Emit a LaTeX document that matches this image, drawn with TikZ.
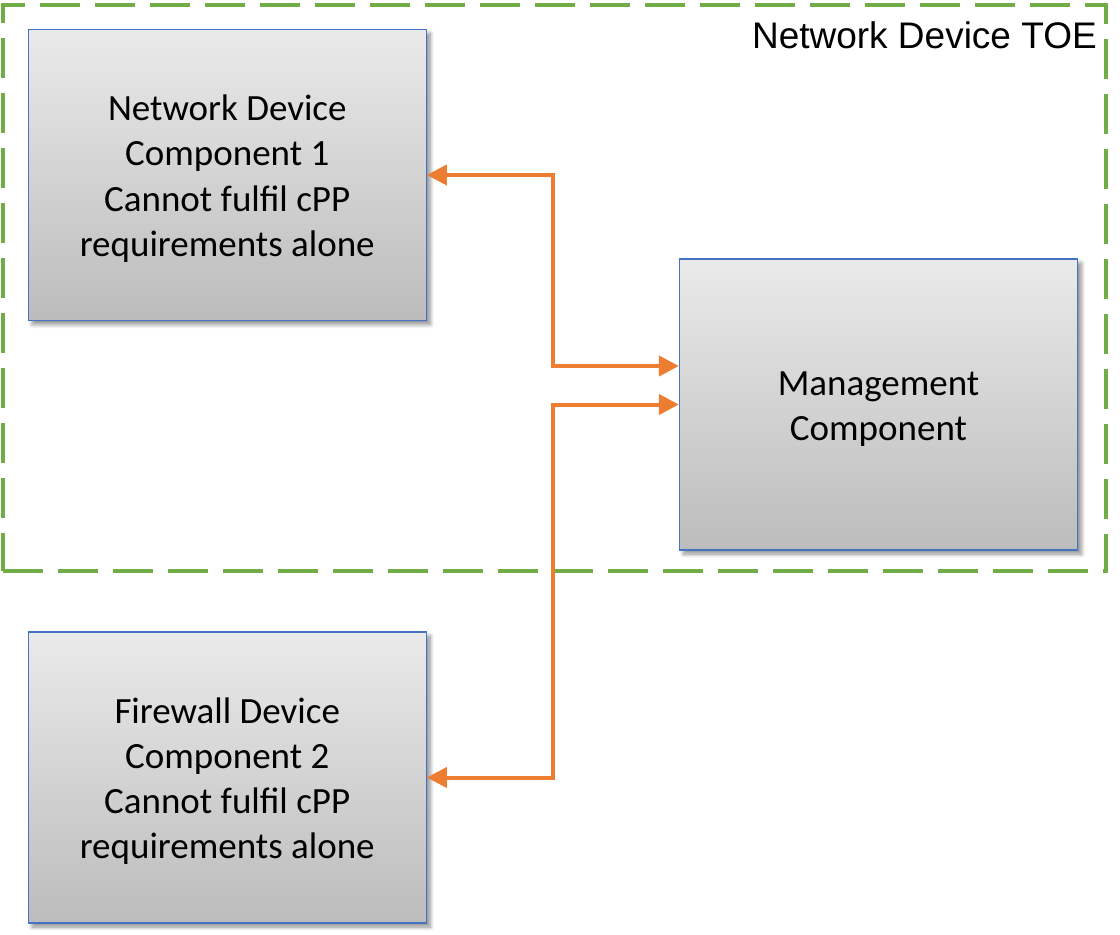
\documentclass[tikz,border=0pt]{standalone}
\usepackage{fontspec}
\setmainfont{Carlito}
\newfontfamily\arialfont{Liberation Sans}
\usetikzlibrary{arrows.meta,shadows.blur,calc}
\definecolor{frameGreen}{HTML}{70AD47}
\definecolor{boxBlue}{HTML}{4472C4}
\definecolor{arrOrange}{HTML}{ED7D31}
\definecolor{gradTop}{RGB}{234,234,234}
\definecolor{gradMid}{RGB}{222,222,222}
\definecolor{gradBot}{RGB}{188,188,188}
\newcommand{\firstlinestrut}{\rule{0pt}{33pt}}
\tikzset{
  compbox/.style={draw=boxBlue, line width=1.3pt, rectangle, inner sep=0pt,
    minimum width=398pt, minimum height=291pt, align=center,
    top color=gradTop, middle color=gradMid, bottom color=gradBot,
    font=\fontsize{37}{45.3}\selectfont,
    blur shadow={shadow xshift=4pt, shadow yshift=-4pt, shadow blur steps=8, shadow blur radius=4pt, shadow opacity=45}},
  toeframe/.style={draw=frameGreen, line width=4.5pt, dash pattern=on 40pt off 15pt, rectangle, inner sep=0pt,
    minimum width=1103pt, minimum height=566pt},
  conn/.style={draw=arrOrange, line width=4pt, {Triangle[length=20pt,width=20pt]}-{Triangle[length=20pt,width=20pt]}},
}
\begin{document}
\begin{tikzpicture}[x=1pt,y=-1pt]
\useasboundingbox (0,0) rectangle (1120,935);
\node[toeframe] (frame) at (554.5,288) {};
\node[anchor=base east, font=\arialfont\fontsize{37}{44}\selectfont, inner sep=0pt] (toelabel) at (1097,48) {Network Device TOE};
\node[compbox] (box1) at (227.25,175) {\firstlinestrut Network Device\\Component 1\\Cannot fulfil cPP\\requirements alone};
\node[compbox] (mgmt) at (878.5,404.5) {\firstlinestrut Management\\Component};
\node[compbox] (box2) at (227.25,777.5) {\firstlinestrut Firewall Device\\Component 2\\Cannot fulfil cPP\\requirements alone};
\coordinate (m1) at ($(mgmt.west)+(0,-38.5)$);
\coordinate (m2) at (mgmt.west);
\coordinate (j1) at (552.5,366);
\coordinate (j2) at (552.5,404.5);
\draw[conn] (box1.east) -| (j1) -- (m1);
\draw[conn] (box2.east) -| (j2) -- (m2);
\end{tikzpicture}
\end{document}
